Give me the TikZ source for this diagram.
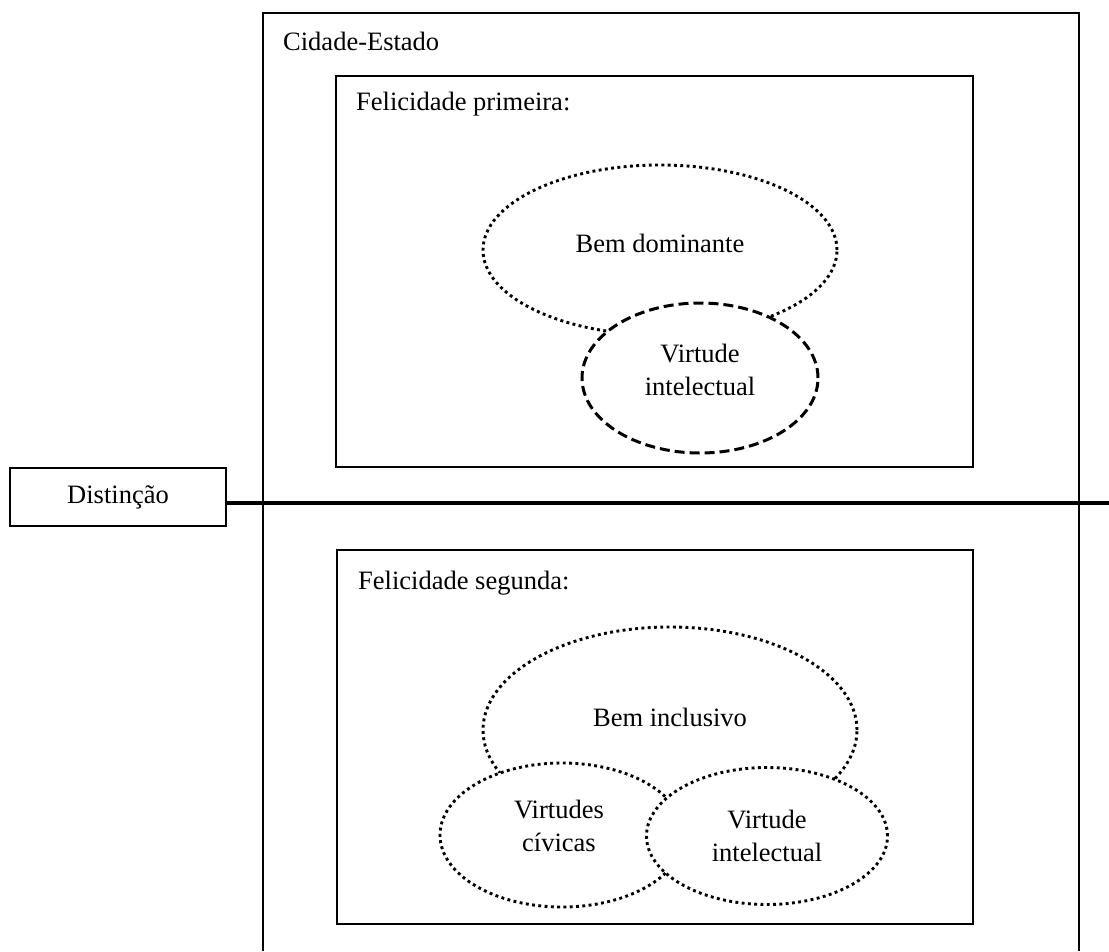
\documentclass[tikz,border=0pt]{standalone}
\usepackage{fontspec}
\setmainfont{Liberation Serif}
\usetikzlibrary{shapes.geometric}
\tikzset{
  box/.style={draw, line width=2.8pt, rectangle, inner sep=0pt},
  dotline/.style={line width=2.9pt, dash pattern=on 2.9pt off 3.4pt},
  dashline/.style={line width=3pt, dash pattern=on 10pt off 5pt},
  ell/.style={ellipse, draw, fill=white, inner sep=0pt},
  txt/.style={align=center, inner sep=0pt},
  lbl/.style={anchor=base west, inner sep=0pt},
}
\begin{document}
\begin{tikzpicture}[x=1pt,y=-1pt,font=\fontsize{26.5}{32.5}\selectfont]
\useasboundingbox (0,0) rectangle (1109,951);
% outer frame (Cidade-Estado), open at the bottom edge
\draw[line width=2.8pt] (263,951) -- (263,13) -- (1079,13) -- (1079,951);
\node[lbl] (ce) at (283,50) {Cidade-Estado};
% top inner box
\node[box, minimum width=637pt, minimum height=391pt] (fp) at (654.5,271.5) {};
\node[lbl] (fpl) at (356,110) {Felicidade primeira:};
% bottom inner box
\node[box, minimum width=636pt, minimum height=374pt] (fs) at (655,737) {};
\node[lbl] (fsl) at (358,589) {Felicidade segunda:};
% distinction
\node[box, minimum width=216pt, minimum height=58pt] (dist) at (118,497) {Distinção};
\coordinate (edge) at (1109,503);
\draw[line width=3.6pt] (dist.east |- edge) -- (edge);
% top ellipses
\node[ell, dotline, minimum width=354pt, minimum height=170pt] (bd) at (660,250) {};
\node[txt] (bdt) at ([yshift=7pt]bd.center) {Bem dominante};
\node[ell, dashline, minimum width=236pt, minimum height=150pt] (vi1) at (700,378) {};
\node[txt] (vi1t) at ([yshift=8pt]vi1.center) {Virtude\\intelectual};
% bottom ellipses
\node[ell, dotline, minimum width=374pt, minimum height=206pt] (bi) at (670,730) {};
\node[txt] (bit) at ([yshift=13pt]bi.center) {Bem inclusivo};
\node[ell, dotline, minimum width=244pt, minimum height=144pt] (vc) at (562,835) {};
\node[txt] (vct) at ([xshift=-3pt,yshift=9pt]vc.center) {Virtudes\\cívicas};
\node[ell, dotline, minimum width=241pt, minimum height=137pt] (vi2) at (767,836) {};
\node[txt] (vi2t) at (vi2.center) {Virtude\\intelectual};
\end{tikzpicture}
\end{document}
